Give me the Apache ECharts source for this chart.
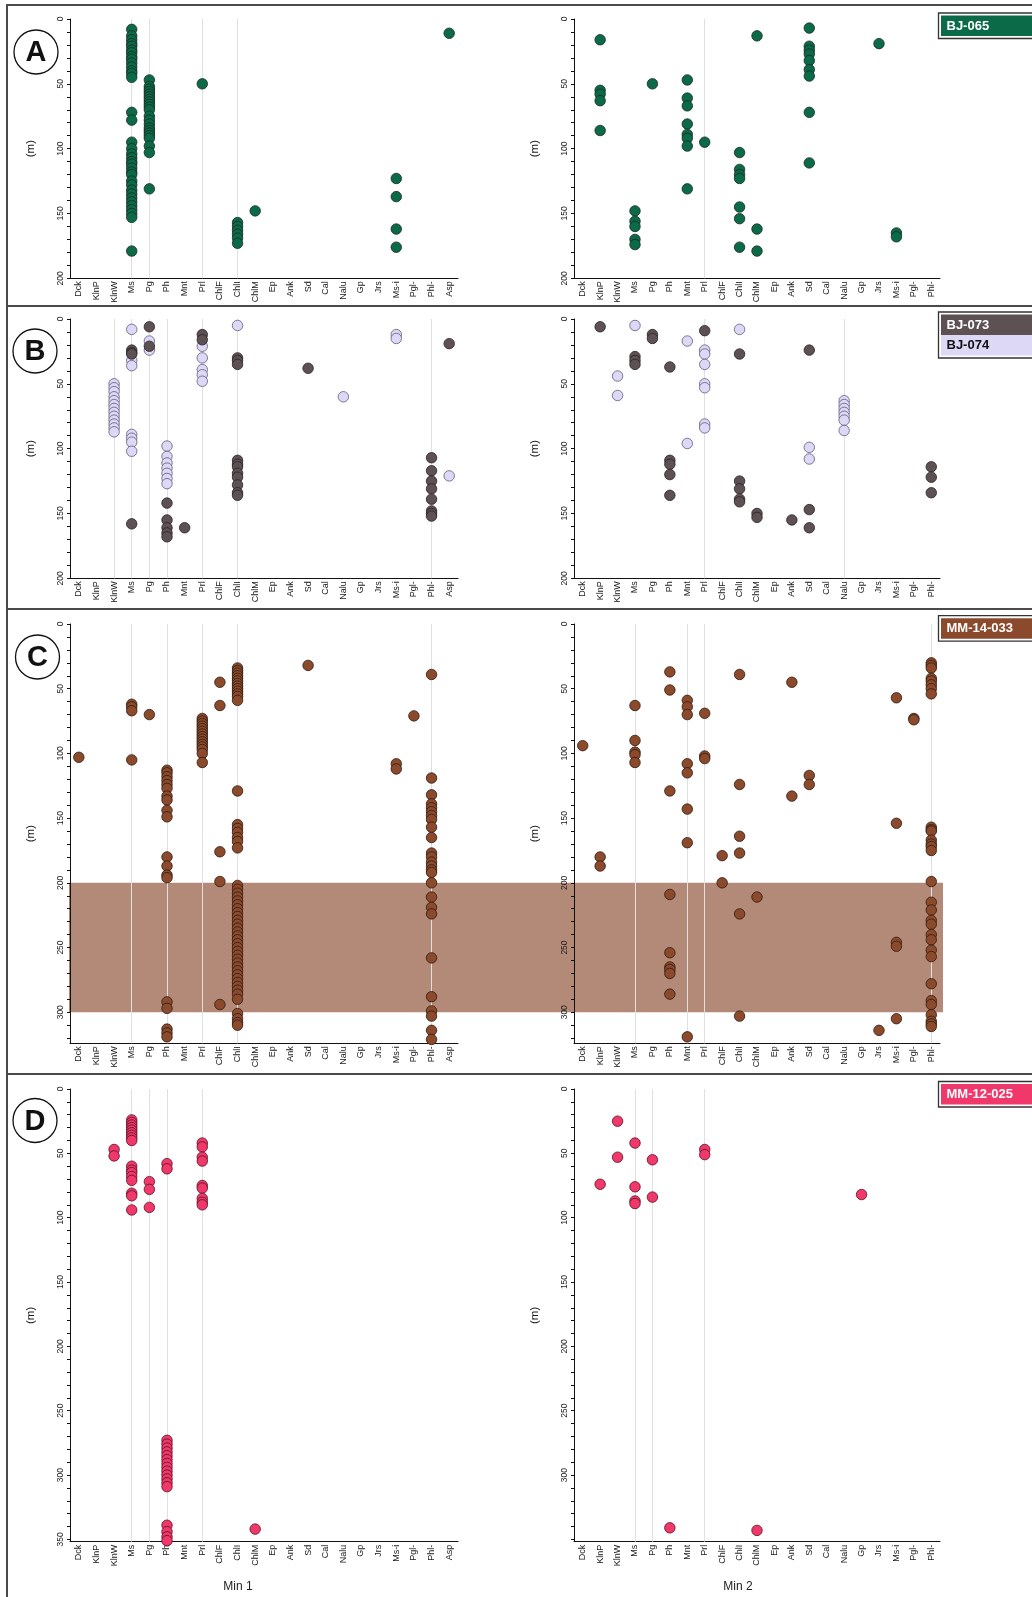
<!DOCTYPE html>
<html><head><meta charset="utf-8">
<script src="https://cdn.jsdelivr.net/npm/echarts@6/dist/echarts.min.js"></script>
<style>html,body{margin:0;padding:0;background:#fff}#c{width:1032px;height:1597px}</style>
</head><body><div id="c"></div>
<script>
// ---------- categories ----------
const minerals = ['Dck','KlnP','KlnW','Ms','Pg','Ph','Mnt','Prl','ChlF','ChlI','ChlM','Ep','Ank','Sd','Cal','Nalu','Gp','Jrs','Ms-i','Pgl-','Phl-','Asp'];
const mineralsMin2 = minerals.slice(0, 21);

// ---------- depth ticks / labels ----------
const yLabels200 = [0,50,100,150,200];
const yLabelsC = [0,50,100,150,200,250,300];
const yLabelsD1 = [0,50,100,150,200,250,300,350];
const yLabelsD2 = [0,50,100,150,200,250,300];

// ---------- data (depth in m per mineral) ----------
const BJ065_min1 = {
  'Ms': [8,13,16,19,21,24,26,29,31,34,37,40,42,45,72,78,95,100,104,107,110,112,115,118,120,125,128,132,135,138,141,144,147,150,153,179],
  'Pg': [47,52,54,56,58,60,62,64,66,68,70,75,78,81,84,86,88,90,92,98,103,131],
  'Prl': [50],
  'ChlI': [157,160,163,166,169,173],
  'ChlM': [148],
  'Ms-i': [123,137,162,176],
  'Asp': [11]
};
const BJ065_min2 = {
  'KlnP': [16,55,58,63,86],
  'Ms': [148,156,160,170,174],
  'Pg': [50],
  'Mnt': [47,61,67,81,89,92,98,131],
  'Prl': [95],
  'ChlI': [103,116,120,123,145,154,176],
  'ChlM': [13,162,179],
  'Sd': [7,21,24,27,32,39,44,72,111],
  'Jrs': [19],
  'Ms-i': [165,168]
};
const BJ074_min1 = {
  'KlnW': [50,53,56,60,63,66,69,72,75,78,81,84,87],
  'Ms': [8,32,36,89,92,95,102],
  'Pg': [17,24],
  'Ph': [98,106,111,115,119,123,127],
  'Prl': [21,30,39,43,48],
  'ChlI': [5],
  'Nalu': [60],
  'Ms-i': [12,15],
  'Asp': [121]
};
const BJ073_min1 = {
  'Ms': [24,26,27,158],
  'Pg': [6,21],
  'Ph': [142,155,161,165,168],
  'Mnt': [161],
  'Prl': [12,16],
  'ChlI': [30,32,35,109,112,114,119,122,128,134,136],
  'Sd': [38],
  'Phl-': [107,117,125,131,139,148,150,152],
  'Asp': [19]
};
const BJ074_min2 = {
  'KlnW': [44,59],
  'Ms': [5],
  'Mnt': [17,96],
  'Prl': [24,27,35,50,53,81,84],
  'ChlI': [8],
  'Nalu': [63,66,69,72,75,78,86],
  'Sd': [99,108]
};
const BJ073_min2 = {
  'KlnP': [6],
  'Ms': [29,32,35],
  'Pg': [12,15],
  'Ph': [37,109,112,120,136],
  'Prl': [9],
  'ChlI': [27,125,131,139,141],
  'ChlM': [150,153],
  'Ank': [155],
  'Sd': [24,147,161],
  'Phl-': [114,122,134]
};
const MM14033_min1 = {
  'Dck': [103],
  'Ms': [62,64,67,105],
  'Pg': [70],
  'Ph': [113,115,118,121,124,127,133,136,144,149,180,187,194,196,292,297,313,316,319],
  'Prl': [73,75,77,79,81,83,85,87,89,91,93,95,97,100,107],
  'ChlF': [45,63,176,199,294],
  'ChlI': [34,36,38,40,42,44,46,48,50,52,54,56,59,129,155,158,161,165,168,173,
           202,205,208,211,214,217,220,223,226,229,232,235,238,241,244,247,250,253,256,259,262,265,268,271,274,277,280,283,286,290,
           301,305,308,310],
  'Sd': [32],
  'Ms-i': [108,112],
  'Pgl-': [71],
  'Phl-': [39,119,132,139,142,145,148,151,157,165,177,180,184,187,190,192,200,211,219,224,258,288,299,303,314,321]
};
const MM14033_min2 = {
  'Dck': [94],
  'KlnP': [180,187],
  'Ms': [63,90,99,101,107],
  'Ph': [37,51,129,209,254,265,267,270,286],
  'Mnt': [59,64,70,108,115,143,169,319],
  'Prl': [69,102,104],
  'ChlF': [179,200],
  'ChlI': [39,124,164,177,224,303],
  'ChlM': [211],
  'Ank': [45,133],
  'Sd': [117,124],
  'Jrs': [314],
  'Ms-i': [57,154,246,249,305],
  'Pgl-': [73,74],
  'Phl-': [30,32,34,42,44,47,50,54,157,159,160,167,170,172,175,199,215,221,229,232,240,244,252,257,278,291,294,302,307,309,311]
};
const MM12025_min1 = {
  'KlnW': [47,52],
  'Ms': [24,26,28,30,32,34,36,38,40,60,63,65,68,71,81,83,94],
  'Pg': [72,78,92],
  'Ph': [58,62,273,276,279,282,285,288,291,294,297,300,303,306,309,339,344,348,351],
  'Prl': [42,45,53,56,75,77,85,88,90],
  'ChlM': [342]
};
const MM12025_min2 = {
  'KlnP': [74],
  'KlnW': [25,53],
  'Ms': [42,76,87,89],
  'Pg': [55,84],
  'Ph': [341],
  'Prl': [47,51],
  'ChlM': [343],
  'Gp': [82]
};
// vertical guide lines per panel
const guidesA1 = ['Ms','Pg','Prl','ChlI'];
const guidesA2 = ['Prl'];
const guidesB1 = ['KlnW','Ms','Pg','Ph','Prl','ChlI','Phl-'];
const guidesB2 = ['Prl','Nalu'];
const guidesC1 = ['Ms','Ph','Prl','ChlI','Phl-'];
const guidesC2 = ['Ms','Mnt','Prl','Phl-'];
const guidesD1 = ['Ms','Pg','Ph','Prl'];
const guidesD2 = ['Ms','Pg','Prl'];
// shaded depth interval in hole MM-14-033
const bandC = [200, 300];

// ---------- styles / layout ----------
const FONT = '"Liberation Sans", Arial, Helvetica, sans-serif';
const ST = {
  g: {color:'#0b6a48', border:'#1b2a22'},
  d: {color:'#5d5153', border:'#2a2224'},
  l: {color:'#ddd8f6', border:'#625a7c'},
  b: {color:'#8b4a2c', border:'#2e1a10'},
  p: {color:'#f0386b', border:'#5a1020'}
};
const bandColor = '#b38a78';
const rowsLayout = [
  {top:19, height:259.3, max:200},
  {top:319, height:259.3, max:200},
  {top:624, height:419.3, max:324},
  {top:1089, height:452.7, max:351.8}
];
const sideLayout = [{left:70, width:388}, {left:574, width:366}];

const panels = [
  {row:0, side:0, cats:minerals, sets:[[BJ065_min1,'g']], guides:guidesA1, labels:yLabels200},
  {row:0, side:1, cats:mineralsMin2, sets:[[BJ065_min2,'g']], guides:guidesA2, labels:yLabels200},
  {row:1, side:0, cats:minerals, sets:[[BJ074_min1,'l'],[BJ073_min1,'d']], guides:guidesB1, labels:yLabels200},
  {row:1, side:1, cats:mineralsMin2, sets:[[BJ074_min2,'l'],[BJ073_min2,'d']], guides:guidesB2, labels:yLabels200},
  {row:2, side:0, cats:minerals, sets:[[MM14033_min1,'b']], guides:guidesC1, labels:yLabelsC},
  {row:2, side:1, cats:mineralsMin2, sets:[[MM14033_min2,'b']], guides:guidesC2, labels:yLabelsC},
  {row:3, side:0, cats:minerals, sets:[[MM12025_min1,'p']], guides:guidesD1, labels:yLabelsD1},
  {row:3, side:1, cats:mineralsMin2, sets:[[MM12025_min2,'p']], guides:guidesD2, labels:yLabelsD2}
];

function toPairs(obj) {
  const out = [];
  Object.keys(obj).forEach(k => obj[k].forEach(v => out.push([k, v])));
  return out;
}
function tickValues(max) { const t = []; for (let v = 0; v <= max; v += 10) t.push(v); return t; }

const grid = [], xAxis = [], yAxis = [], series = [];
const axisColor = '#111';
panels.forEach((p, i) => {
  const r = rowsLayout[p.row], s = sideLayout[p.side];
  grid.push({left:s.left, width:s.width, top:r.top, height:r.height, containLabel:false, outerBoundsMode:'none'});
  xAxis.push({
    type:'category', gridIndex:i, data:p.cats, boundaryGap:true,
    axisLine:{show:true, onZero:false, lineStyle:{color:axisColor, width:1}},
    axisTick:{show:false},
    axisLabel:{rotate:90, interval:0, fontSize:9, color:'#1a1a1a', margin:3, fontFamily:FONT},
    splitLine:{show:false}
  });
  yAxis.push({
    type:'value', gridIndex:i, inverse:true, min:0, max:r.max,
    name:'(m)', nameLocation:'middle', nameGap:33,
    nameTextStyle:{fontSize:11.5, color:'#1a1a1a', fontFamily:FONT},
    axisLine:{show:true, onZero:false, lineStyle:{color:axisColor, width:1}},
    axisTick:{show:true, length:3, customValues:tickValues(r.max), lineStyle:{color:axisColor}},
    axisLabel:{rotate:90, fontSize:8.5, color:'#1a1a1a', margin:5, fontFamily:FONT, customValues:p.labels},
    splitLine:{show:false}
  });
  series.push({
    type:'scatter', xAxisIndex:i, yAxisIndex:i, data:[], silent:true, z:1, animation:false,
    markLine:{
      silent:true, symbol:['none','none'], z:1, animation:false,
      label:{show:false},
      lineStyle:{type:'solid', color:'#e0e0e0', width:1},
      emphasis:{disabled:true},
      data:p.guides.map(c => ({xAxis:p.cats.indexOf(c)}))
    }
  });
  p.sets.forEach(([obj, key]) => {
    series.push({
      type:'scatter', xAxisIndex:i, yAxisIndex:i, data:toPairs(obj),
      symbol:'circle', symbolSize:10.5, z:10, silent:true, animation:false,
      itemStyle:{color:ST[key].color, borderColor:ST[key].border, borderWidth:0.8, opacity:1}
    });
  });
});

// band grid (spans both panels of row C)
const bi = panels.length;
grid.push({left:69, width:874, top:rowsLayout[2].top, height:rowsLayout[2].height, containLabel:false, outerBoundsMode:'none'});
xAxis.push({type:'value', gridIndex:bi, show:false, min:0, max:1});
yAxis.push({type:'value', gridIndex:bi, show:false, min:0, max:rowsLayout[2].max, inverse:true});
series.push({
  type:'scatter', xAxisIndex:bi, yAxisIndex:bi, data:[], z:-1, silent:true, animation:false,
  markArea:{silent:true, z:-1, animation:false, itemStyle:{color:bandColor, opacity:1},
    label:{show:false}, data:[[{yAxis:bandC[0]},{yAxis:bandC[1]}]]}
});

// ---------- decorations ----------
const graphic = [];
const frameColor = '#4a4a4a';
[5, 306, 609, 1074].forEach(y => graphic.push({type:'line', silent:true, z:100,
  shape:{x1:6, y1:y, x2:1032, y2:y}, style:{stroke:frameColor, lineWidth:2}}));
graphic.push({type:'line', silent:true, z:100, shape:{x1:7, y1:4, x2:7, y2:1597}, style:{stroke:frameColor, lineWidth:2}});

const letters = [['A',36,52],['B',35,351],['C',37.5,657],['D',35,1120.5]];
letters.forEach(([t,x,y]) => {
  graphic.push({type:'circle', silent:true, z:100, shape:{cx:x, cy:y, r:22}, style:{fill:'#fff', stroke:'#111', lineWidth:1.3}});
  graphic.push({type:'text', silent:true, z:101, x:x, y:y+1, style:{text:t, fill:'#111', font:'bold 29px ' + FONT, align:'center', verticalAlign:'middle'}});
});

function legendBox(y0, rows) {
  const h = rows.length * 20.5;
  graphic.push({type:'rect', silent:true, z:100, shape:{x:938.5, y:y0, width:110, height:h + 5}, style:{fill:'#fff', stroke:'#333', lineWidth:1.3}});
  rows.forEach(([label, key, txt], k) => {
    const yy = y0 + 2.5 + k * 20.5;
    graphic.push({type:'rect', silent:true, z:101, shape:{x:941, y:yy, width:100, height:20.5}, style:{fill:ST[key].color}});
    graphic.push({type:'text', silent:true, z:102, x:946.5, y:yy + 10.5, style:{text:label, fill:txt, font:'bold 13px ' + FONT, verticalAlign:'middle'}});
  });
}
legendBox(13, [['BJ-065','g','#fff']]);
legendBox(312, [['BJ-073','d','#fff'],['BJ-074','l','#111']]);
legendBox(615.7, [['MM-14-033','b','#fff']]);
legendBox(1081.5, [['MM-12-025','p','#fff']]);

graphic.push({type:'text', silent:true, z:100, x:238, y:1587, style:{text:'Min 1', fill:'#222', font:'12px ' + FONT, align:'center', verticalAlign:'middle'}});
graphic.push({type:'text', silent:true, z:100, x:738, y:1587, style:{text:'Min 2', fill:'#222', font:'12px ' + FONT, align:'center', verticalAlign:'middle'}});

const chart = echarts.init(document.getElementById('c'), null, {renderer:'canvas'});
chart.setOption({
  animation:false,
  backgroundColor:'#fff',
  textStyle:{fontFamily:FONT},
  grid, xAxis, yAxis, series, graphic
});
</script></body></html>
